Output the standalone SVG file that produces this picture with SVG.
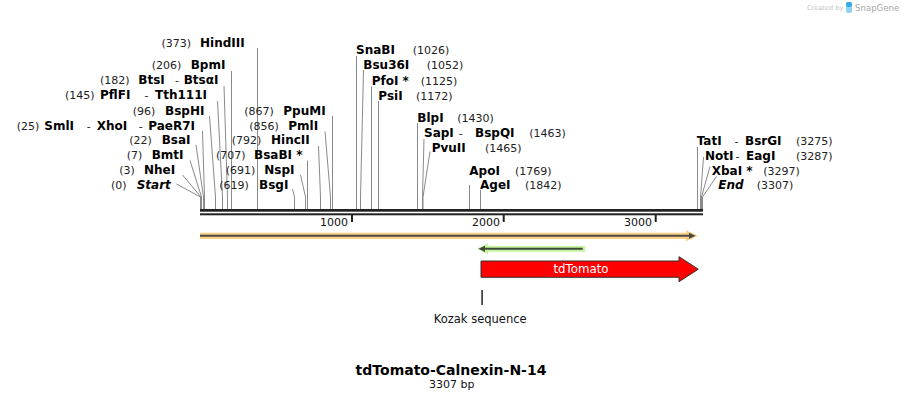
<svg xmlns="http://www.w3.org/2000/svg" width="904" height="401" viewBox="0 0 904 401">
<style>
.b{font-family:"DejaVu Sans",Verdana,sans-serif;font-weight:bold;font-size:12px;fill:#000}
.bi{font-family:"DejaVu Sans",Verdana,sans-serif;font-weight:bold;font-style:italic;font-size:12px;fill:#000}
.n{font-family:"DejaVu Sans",Verdana,sans-serif;font-size:11px;fill:#222}
.c{fill:none;stroke:#8a8a8a;stroke-width:1}
.t{font-family:"DejaVu Sans",Verdana,sans-serif;font-size:11px;fill:#111}
</style>
<rect width="904" height="401" fill="#fff"/>

<g id="credit">
<text x="807" y="10" style="font-family:'DejaVu Sans',sans-serif;font-size:6.6px;fill:#c4c4c4">Created by</text>
<rect x="846" y="2" width="6" height="11" rx="2" fill="#8fd3f5"/>
<rect x="846" y="2" width="6" height="5" rx="2" fill="#3aa8e8"/>
<text x="855" y="11" style="font-family:'DejaVu Sans',sans-serif;font-size:8.6px;fill:#a8a8a8">SnapGene</text>
</g>

<g id="connectors">
<polyline class="c" points="257.5,48 257.5,209"/>
<polyline class="c" points="231.5,71 231.5,209"/>
<polyline class="c" points="224,86 227.5,197 227.5,209"/>
<polyline class="c" points="217.5,101 222.5,197 222.5,209"/>
<polyline class="c" points="209.5,116 215.5,197 215.5,209"/>
<polyline class="c" points="202.5,131 204.5,197 204.5,209"/>
<polyline class="c" points="196,145 203.5,197 203.5,209"/>
<polyline class="c" points="190,160.5 201.5,197 201.5,209"/>
<polyline class="c" points="182.5,175 201,197 201,209"/>
<polyline class="c" points="176.5,184 200.5,197 200.5,209"/>
<polyline class="c" points="332.5,116 332.5,209"/>
<polyline class="c" points="325,131.5 330.5,197 330.5,209"/>
<polyline class="c" points="318.5,146 320.5,197 320.5,209"/>
<polyline class="c" points="307.5,160.5 307.5,209"/>
<polyline class="c" points="300.5,175 305.5,197 305.5,209"/>
<polyline class="c" points="292.5,189 294.5,197 294.5,209"/>
<polyline class="c" points="356.5,56 356.5,209"/>
<polyline class="c" points="363.5,70 360.5,197 360.5,209"/>
<polyline class="c" points="371.5,86.5 371.5,209"/>
<polyline class="c" points="378.5,101 378.5,209"/>
<polyline class="c" points="417.5,123 417.5,209"/>
<polyline class="c" points="424,139 422.5,197 422.5,209"/>
<polyline class="c" points="430,151.5 423,197 423,209"/>
<polyline class="c" points="469.5,185 469.5,209"/>
<polyline class="c" points="480.5,190 480.5,209"/>
<polyline class="c" points="697.5,147 697.5,209"/>
<polyline class="c" points="703.5,157 700.5,197 700.5,209"/>
<polyline class="c" points="710,166.5 701.5,197 701.5,209"/>
<polyline class="c" points="716.5,176.5 702.5,197 702.5,209"/>
</g>

<g id="HindIII"><text class="n" x="161.5" y="47">(373)</text><text class="b" x="200" y="47">HindIII</text></g>
<g id="BpmI"><text class="n" x="151.7" y="68.5">(206)</text><text class="b" x="190.7" y="68.5">BpmI</text></g>
<g id="BtsI"><text class="n" x="100" y="84">(182)</text><text class="b" x="138.3" y="84">BtsI</text><text class="n" x="175" y="84">-</text><text class="b" x="183.7" y="84">BtsαI</text></g>
<g id="PflFI"><text class="n" x="65" y="99">(145)</text><text class="b" x="100" y="99">PflFI</text><text class="n" x="144.5" y="99">-</text><text class="b" x="155" y="99">Tth111I</text></g>
<g id="BspHI"><text class="n" x="132.7" y="114.5">(96)</text><text class="b" x="165" y="114.5">BspHI</text></g>
<g id="SmlI"><text class="n" x="16.7" y="129.5">(25)</text><text class="b" x="44.3" y="129.5">SmlI</text><text class="n" x="86.8" y="129.5">-</text><text class="b" x="96.7" y="129.5">XhoI</text><text class="n" x="138.8" y="129.5">-</text><text class="b" x="148.3" y="129.5">PaeR7I</text></g>
<g id="BsaI"><text class="n" x="129.3" y="144">(22)</text><text class="b" x="161.7" y="144">BsaI</text></g>
<g id="BmtI"><text class="n" x="126.7" y="159">(7)</text><text class="b" x="151.7" y="159">BmtI</text></g>
<g id="NheI"><text class="n" x="119.3" y="174">(3)</text><text class="b" x="144" y="174">NheI</text></g>
<g id="Start"><text class="n" x="111" y="189">(0)</text><text class="bi" x="136.7" y="189">Start</text></g>

<g id="PpuMI"><text class="n" x="244.3" y="114.5">(867)</text><text class="b" x="283.3" y="114.5">PpuMI</text></g>
<g id="PmlI"><text class="n" x="249.3" y="129.5">(856)</text><text class="b" x="288.3" y="129.5">PmlI</text></g>
<g id="HincII"><text class="n" x="231.7" y="144">(792)</text><text class="b" x="271" y="144">HincII</text></g>
<g id="BsaBI"><text class="n" x="216" y="159">(707)</text><text class="b" x="254" y="159">BsaBI *</text></g>
<g id="NspI"><text class="n" x="225.7" y="174">(691)</text><text class="b" x="264.3" y="174">NspI</text></g>
<g id="BsgI"><text class="n" x="219.3" y="189">(619)</text><text class="b" x="259" y="189">BsgI</text></g>

<g id="SnaBI"><text class="b" x="356" y="54">SnaBI</text><text class="n" x="412.7" y="54">(1026)</text></g>
<g id="Bsu36I"><text class="b" x="363.3" y="69">Bsu36I</text><text class="n" x="426.7" y="69">(1052)</text></g>
<g id="PfoI"><text class="b" x="371.7" y="84.5">PfoI *</text><text class="n" x="420.7" y="84.5">(1125)</text></g>
<g id="PsiI"><text class="b" x="378.3" y="99.5">PsiI</text><text class="n" x="416" y="99.5">(1172)</text></g>
<g id="BlpI"><text class="b" x="417.3" y="121.5">BlpI</text><text class="n" x="457.3" y="121.5">(1430)</text></g>
<g id="SapI"><text class="b" x="424" y="136.5">SapI</text><text class="n" x="458.8" y="136.5">-</text><text class="b" x="475" y="136.5">BspQI</text><text class="n" x="529.3" y="136.5">(1463)</text></g>
<g id="PvuII"><text class="b" x="431.7" y="151.5">PvuII</text><text class="n" x="485" y="151.5">(1465)</text></g>
<g id="ApoI"><text class="b" x="469.3" y="174.5">ApoI</text><text class="n" x="515" y="174.5">(1769)</text></g>
<g id="AgeI"><text class="b" x="480" y="189">AgeI</text><text class="n" x="525" y="189">(1842)</text></g>
<g id="TatI"><text class="b" x="696.7" y="144.5">TatI</text><text class="n" x="734.5" y="144.5">-</text><text class="b" x="745" y="144.5">BsrGI</text><text class="n" x="796" y="144.5">(3275)</text></g>
<g id="NotI"><text class="b" x="705" y="159.5">NotI</text><text class="n" x="735.5" y="159.5">-</text><text class="b" x="746" y="159.5">EagI</text><text class="n" x="796" y="159.5">(3287)</text></g>
<g id="XbaI"><text class="b" x="711.7" y="174.5">XbaI *</text><text class="n" x="763.3" y="174.5">(3297)</text></g>
<g id="End"><text class="bi" x="718.3" y="189">End</text><text class="n" x="756.7" y="189">(3307)</text></g>

<g id="sequence">
<rect x="200" y="209" width="503" height="2.7" fill="#222"/>
<rect x="200" y="213.3" width="503" height="2" fill="#222"/>
<rect x="351" y="215" width="2" height="7" fill="#222"/>
<rect x="502.7" y="215" width="2" height="7" fill="#222"/>
<rect x="654.7" y="215" width="2" height="7" fill="#222"/>
<text class="t" x="348" y="225.5" text-anchor="end">1000</text>
<text class="t" x="500" y="225.5" text-anchor="end">2000</text>
<text class="t" x="652" y="225.5" text-anchor="end">3000</text>
</g>

<g id="orange-feature">
<path d="M200,235.8 H692" stroke="#fbcf80" stroke-width="6.3" fill="none"/>
<polygon points="686,230.3 698,235.8 686,241.3" fill="#fbcf80"/>
<path d="M200,235.8 H690" stroke="#4a4a4a" stroke-width="2" fill="none"/>
<polygon points="689,232.7 695.5,235.8 689,238.9" fill="#4a4a4a"/>
</g>

<g id="green-feature">
<path d="M484,248.8 H585" stroke="#c3f39a" stroke-width="5.7" fill="none"/>
<polygon points="488,243.3 477,248.8 488,254.3" fill="#c3f39a"/>
<path d="M482,248.8 H582.7" stroke="#404a3c" stroke-width="2" fill="none"/>
<polygon points="485,245.7 478.5,248.8 485,251.9" fill="#404a3c"/>
</g>

<g id="tdTomato">
<polygon points="481,261 679,261 679,256.7 698.3,269.2 679,281.7 679,277.3 481,277.3" fill="#ff0000" stroke="#333" stroke-width="1"/>
<text x="581" y="273.3" text-anchor="middle" style="font-family:'DejaVu Sans',Verdana,sans-serif;font-size:11.8px;fill:#fff">tdTomato</text>
</g>

<g id="kozak">
<rect x="481.3" y="290" width="1.6" height="15" fill="#333"/>
<text x="480.2" y="323.3" text-anchor="middle" style="font-family:'DejaVu Sans',Verdana,sans-serif;font-size:11.5px;fill:#111">Kozak sequence</text>
</g>

<g id="title">
<text x="451" y="375" text-anchor="middle" style="font-family:'DejaVu Sans',Verdana,sans-serif;font-weight:bold;font-size:14px;fill:#000">tdTomato-Calnexin-N-14</text>
<text x="451.7" y="388.3" text-anchor="middle" class="t">3307 bp</text>
</g>
</svg>
